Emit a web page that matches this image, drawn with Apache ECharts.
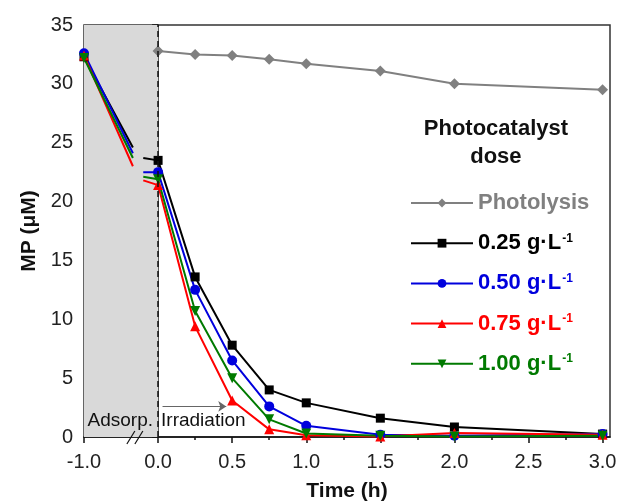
<!DOCTYPE html>
<html>
<head>
<meta charset="utf-8">
<script src="https://cdn.jsdelivr.net/npm/echarts@6/dist/echarts.min.js"></script>
<style>
html, body { margin: 0; padding: 0; background: #fff; }
#main { width: 620px; height: 503px; }
</style>
</head>
<body>
<div id="main"></div>
<script>
// sampling times (h); -1 = start of adsorption in the dark
var times = [-1, 0, 0.25, 0.5, 0.75, 1, 1.5, 2, 3];
var photoTimes = [0, 0.25, 0.5, 0.75, 1, 1.5, 2, 3];
var photolysis = [32.8, 32.5, 32.4, 32.1, 31.7, 31.1, 30.0, 29.5];

var doseLabels = ['0.25', '0.50', '0.75', '1.00'];
var dose025 = [32.3, 23.5, 13.6, 7.8, 4.0, 2.9, 1.6, 0.85, 0.25];
var dose050 = [32.6, 22.5, 12.5, 6.5, 2.6, 0.95, 0.2, 0.1, 0.25];
var dose075 = [32.4, 21.4, 9.4, 3.1, 0.65, 0.15, 0.05, 0.35, 0.2];
var dose100 = [32.2, 21.9, 10.7, 5.0, 1.5, 0.3, 0.1, 0.05, 0.1];

// ends of the broken segment before t = 0 (axis break)
var breakTimes = [-0.34, -0.27, -0.2];
var breakLeft = [24.6, 24.1, 23.0, 23.7];
var breakRight = [23.7, 22.5, 21.8, 22.1];

var xMinorTicks = [0.25, 0.75, 1.25, 1.75, 2.25, 2.75];

var colors = ['#000000', '#0000dd', '#ff0000', '#007a00'];
var symbols = ['rect', 'circle', 'triangle', 'path://M0,0 L10,0 L5,9 Z'];
var symbolSizes = [9, 10, 10, 10];
var doses = [dose025, dose050, dose075, dose100];

var FONT = 'Liberation Sans, Arial, sans-serif';

// the dark period (-1..0 h) is squeezed to half width
function toAxis(x) {
    return x < 0 ? x / 2 : x;
}

function doseData(vals, i) {
    var d = [[toAxis(times[0]), vals[0]]];
    d.push({ value: [toAxis(breakTimes[0]), breakLeft[i]], symbol: 'none' });
    d.push([toAxis(breakTimes[1]), null]);
    d.push({ value: [toAxis(breakTimes[2]), breakRight[i]], symbol: 'none' });
    for (var k = 1; k < times.length; k++) {
        d.push([toAxis(times[k]), vals[k]]);
    }
    return d;
}

var axisLineStyle = { color: '#111', width: 1.5 };

var series = [{
    name: 'bg',
    type: 'line',
    data: [],
    z: 0,
    silent: true,
    markArea: {
        silent: true,
        itemStyle: { color: '#d9d9d9' },
        data: [[{ xAxis: toAxis(-1), yAxis: 0 }, { xAxis: 0, yAxis: 35 }]]
    },
    markLine: {
        silent: true,
        symbol: ['none', 'none'],
        label: { show: false },
        lineStyle: { type: [6, 4], color: '#111', width: 1.5 },
        data: [{ xAxis: 0 }]
    }
}, {
    name: 'arrow',
    type: 'line',
    data: [],
    z: 1,
    silent: true,
    markLine: {
        silent: true,
        symbol: ['none', 'arrow'],
        symbolSize: 8,
        label: { show: false },
        lineStyle: { type: 'solid', color: '#666', width: 1.2 },
        data: [[{ coord: [0.03, 2.6] }, { coord: [0.46, 2.6] }]]
    }
}, {
    name: 'Photolysis',
    type: 'line',
    z: 3,
    symbol: 'diamond',
    symbolSize: 11,
    itemStyle: { color: '#808080' },
    lineStyle: { color: '#808080', width: 2 },
    data: photoTimes.map(function (t, k) { return [toAxis(t), photolysis[k]]; })
}];

doses.forEach(function (vals, i) {
    series.push({
        name: doseLabels[i] + ' g·L-1',
        type: 'line',
        z: 3,
        symbol: symbols[i],
        symbolSize: symbolSizes[i],
        itemStyle: { color: colors[i] },
        lineStyle: { color: colors[i], width: 2 },
        data: doseData(vals, i)
    });
});

var richStyles = {
    p: { color: '#808080', fontSize: 22, fontWeight: 'bold', fontFamily: FONT, lineHeight: 22 }
};
colors.forEach(function (c, i) {
    richStyles['d' + i] = { color: c, fontSize: 22, fontWeight: 'bold', fontFamily: FONT, lineHeight: 22 };
    richStyles['s' + i] = { color: c, fontSize: 12, fontWeight: 'bold', fontFamily: FONT, lineHeight: 12, verticalAlign: 'top', padding: [0, 0, 0, 1] };
});

var option = {
    backgroundColor: '#ffffff',
    animation: false,
    grid: {
        left: 84, right: 10, top: 25, bottom: 66,
        containLabel: false,
        outerBoundsMode: 'none',
        show: true, borderColor: '#333', borderWidth: 1.5
    },
    legend: {
        orient: 'vertical',
        left: 410,
        top: 192,
        padding: 0,
        itemWidth: 62,
        itemHeight: 11,
        itemGap: 18.2,
        selectedMode: false,
        data: ['Photolysis'].concat(doseLabels.map(function (l) { return l + ' g·L-1'; })),
        formatter: function (name) {
            if (name === 'Photolysis') return '{p|Photolysis}';
            var i = doseLabels.indexOf(name.split(' ')[0]);
            return '{d' + i + '|' + doseLabels[i] + ' g·L}{s' + i + '|-1}';
        },
        textStyle: { fontFamily: FONT, fontSize: 22, fontWeight: 'bold', rich: richStyles }
    },
    xAxis: [{
        type: 'value',
        min: toAxis(-1),
        max: 3.05,
        interval: 0.5,
        position: 'bottom',
        axisLine: { show: true, lineStyle: axisLineStyle },
        axisTick: { show: true, length: 6, lineStyle: axisLineStyle },
        axisLabel: {
            fontFamily: FONT, fontSize: 20, color: '#222', margin: 15,
            showMaxLabel: false,
            formatter: function (v) {
                var r = v < 0 ? v * 2 : v;
                if (Math.abs(r * 2 - Math.round(r * 2)) > 1e-6) return '';
                return r.toFixed(1);
            }
        },
        splitLine: { show: false },
        name: 'Time (h)',
        nameLocation: 'middle',
        nameGap: 44,
        nameTextStyle: { fontFamily: FONT, fontSize: 21, fontWeight: 'bold', color: '#111' }
    }, {
        type: 'value',
        min: toAxis(-1),
        max: 3.05,
        position: 'bottom',
        axisLine: { show: false },
        axisTick: { show: true, length: 3, customValues: xMinorTicks, lineStyle: axisLineStyle },
        axisLabel: { show: false },
        splitLine: { show: false }
    }],
    yAxis: {
        type: 'value',
        min: 0,
        max: 35,
        interval: 5,
        axisLine: { show: true, lineStyle: axisLineStyle },
        axisTick: { show: true, length: 6, lineStyle: axisLineStyle },
        minorTick: { show: true, splitNumber: 2, length: 3, lineStyle: axisLineStyle },
        axisLabel: { fontFamily: FONT, fontSize: 20, color: '#222', margin: 11 },
        splitLine: { show: false },
        name: 'MP (μM)',
        nameLocation: 'middle',
        nameGap: 42,
        nameTextStyle: { fontFamily: FONT, fontSize: 21, fontWeight: 'bold', color: '#111' }
    },
    series: series
};

var myChart = echarts.init(document.getElementById('main'));
myChart.setOption(option);

// annotations placed through the axes
function px(x, y) {
    return myChart.convertToPixel({ xAxisIndex: 0, yAxisIndex: 0 }, [x, y]);
}
var pAds = px(toAxis(-0.51), 1.35);
var pIrr = px(0.02, 1.35);
var pBrk = px(toAxis(-0.3), 0);
var pHead = px(2.28, 27.4);

myChart.setOption({
    graphic: [{
        type: 'text', z: 10,
        style: { text: 'Adsorp.', x: pAds[0], y: pAds[1], align: 'center', verticalAlign: 'middle', font: '19px ' + FONT, fill: '#111' }
    }, {
        type: 'text', z: 10,
        style: { text: 'Irradiation', x: pIrr[0], y: pIrr[1], align: 'left', verticalAlign: 'middle', font: '19px ' + FONT, fill: '#111' }
    }, {
        type: 'line', z: 10,
        shape: { x1: pBrk[0] - 9, y1: pBrk[1] + 7, x2: pBrk[0] - 1, y2: pBrk[1] - 6 },
        style: { stroke: '#111', lineWidth: 1.2 }
    }, {
        type: 'line', z: 10,
        shape: { x1: pBrk[0] - 1, y1: pBrk[1] + 7, x2: pBrk[0] + 7, y2: pBrk[1] - 6 },
        style: { stroke: '#111', lineWidth: 1.2 }
    }, {
        type: 'text', z: 10,
        style: { text: 'Photocatalyst\ndose', x: pHead[0], y: pHead[1], align: 'center', verticalAlign: 'top', font: 'bold 22px ' + FONT, lineHeight: 28, fill: '#111' }
    }]
});
</script>
</body>
</html>
